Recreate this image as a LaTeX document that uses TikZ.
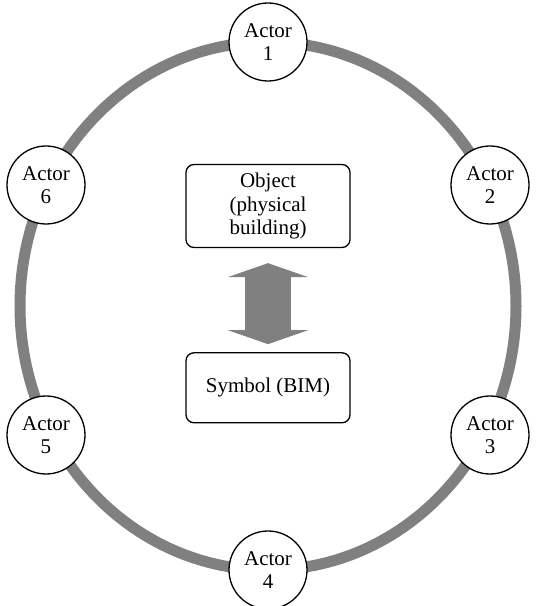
\documentclass[tikz,border=0pt]{standalone}
\usepackage{fontspec}
\setmainfont{Liberation Serif}
\usepackage{tikz}
\usetikzlibrary{arrows.meta}
\usetikzlibrary{positioning}
\definecolor{ringgray}{RGB}{128,128,128}
\begin{document}
\begin{tikzpicture}[x=1pt,y=1pt,
    actor/.style={circle,draw,fill=white,line width=1.3pt,minimum size=78pt,inner sep=0pt,align=center,font=\fontsize{21}{23.5}\selectfont},
    entity/.style={rectangle,rounded corners=8pt,draw,line width=1.3pt,minimum width=164pt,align=center,font=\fontsize{21}{23.5}\selectfont},
    link/.style={ringgray,line width=46pt,{Triangle[length=14pt,width=80pt]}-{Triangle[length=14pt,width=80pt]},shorten <=15pt,shorten >=8pt}]
          \useasboundingbox (0,0) rectangle (537,606);
          % ring
          \draw [ringgray,line width=11pt] (268,300) ellipse [x radius=248, y radius=264];
          % object and symbol
          \node[entity,minimum height=83pt] (object) at (268,400) {Object\\(physical\\building)};
          \node[entity,minimum height=70pt,below=104pt of object] (symbol) {Symbol (BIM)};
          % arrow between object and symbol
          \draw [link] (object.south) -- (symbol.north);
          % actors
          \foreach \n/\x/\y in {1/268/564,2/490/421,3/490/171,4/268/36,5/46/171,6/46/421}
            \node[actor] (actor\n) at (\x,\y) {Actor\\\n};
        \end{tikzpicture}
\end{document}
